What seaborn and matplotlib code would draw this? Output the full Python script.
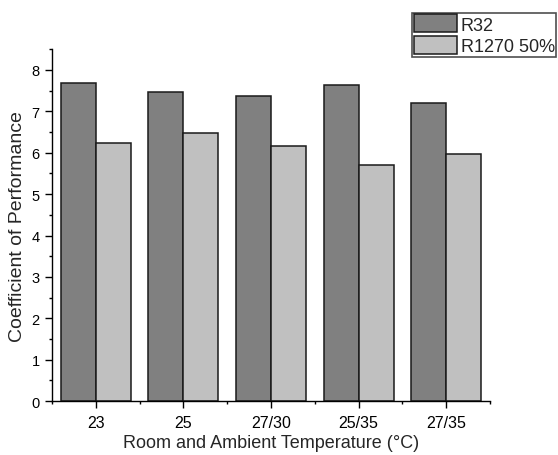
import pandas as pd
import matplotlib
matplotlib.use("Agg")
import matplotlib.pyplot as plt
from matplotlib.ticker import MultipleLocator, FixedLocator
import seaborn as sns

# values
temperatures = ["23", "25", "27/30", "25/35", "27/35"]
cop_r32 = [7.69, 7.46, 7.36, 7.64, 7.20]
cop_r1270 = [6.23, 6.47, 6.17, 5.70, 5.97]
series_names = ["R32", "R1270 50%"]

df = pd.DataFrame({
    "temp": temperatures * 2,
    "cop": cop_r32 + cop_r1270,
    "refrigerant": [series_names[0]] * len(temperatures) + [series_names[1]] * len(temperatures),
})

sns.set_style("ticks")
plt.rcParams["font.family"] = ["Liberation Sans", "DejaVu Sans"]

fig = plt.figure(figsize=(5.58, 4.56), dpi=100)
ax = fig.add_axes([0.0932, 0.118, 0.785, 0.772])

sns.barplot(data=df, x="temp", y="cop", hue="refrigerant",
            palette=["#808080", "#c0c0c0"], edgecolor="#1a1a1a",
            linewidth=1.1, width=0.8, ax=ax)

ax.set_xlim(-0.5, 4.5)
ax.set_ylim(0, 8.5)
ax.yaxis.set_major_locator(MultipleLocator(1))
ax.yaxis.set_minor_locator(MultipleLocator(0.5))
ax.xaxis.set_minor_locator(FixedLocator([-0.5, 0.5, 1.5, 2.5, 3.5, 4.5]))
ax.tick_params(which="major", direction="out", length=5, width=1, colors="black", labelsize=10.5)
ax.tick_params(which="minor", direction="out", length=2.5, width=1, colors="black")
ax.tick_params(axis="x", which="major", labelsize=11.5, pad=5)
ax.tick_params(axis="y", which="major", pad=4)

for side in ["top", "right"]:
    ax.spines[side].set_visible(False)
for side in ["left", "bottom"]:
    ax.spines[side].set_color("black")
    ax.spines[side].set_linewidth(1)

ax.set_xlabel("Room and Ambient Temperature (°C)", fontsize=13, labelpad=3)
ax.set_ylabel("Coefficient of Performance", fontsize=14, labelpad=4)

handles, labels = ax.get_legend_handles_labels()
ax.get_legend().remove()
leg = fig.legend(handles, labels, loc="upper left", bbox_to_anchor=(0.738, 0.97),
                 fontsize=13, frameon=True, fancybox=False, borderpad=0.1,
                 borderaxespad=0, handlelength=2.4, handleheight=1.15,
                 handletextpad=0.2, labelspacing=0.15)
leg.get_frame().set_edgecolor("#222222")
leg.get_frame().set_linewidth(1.2)

fig.savefig("out.png", dpi=100)
